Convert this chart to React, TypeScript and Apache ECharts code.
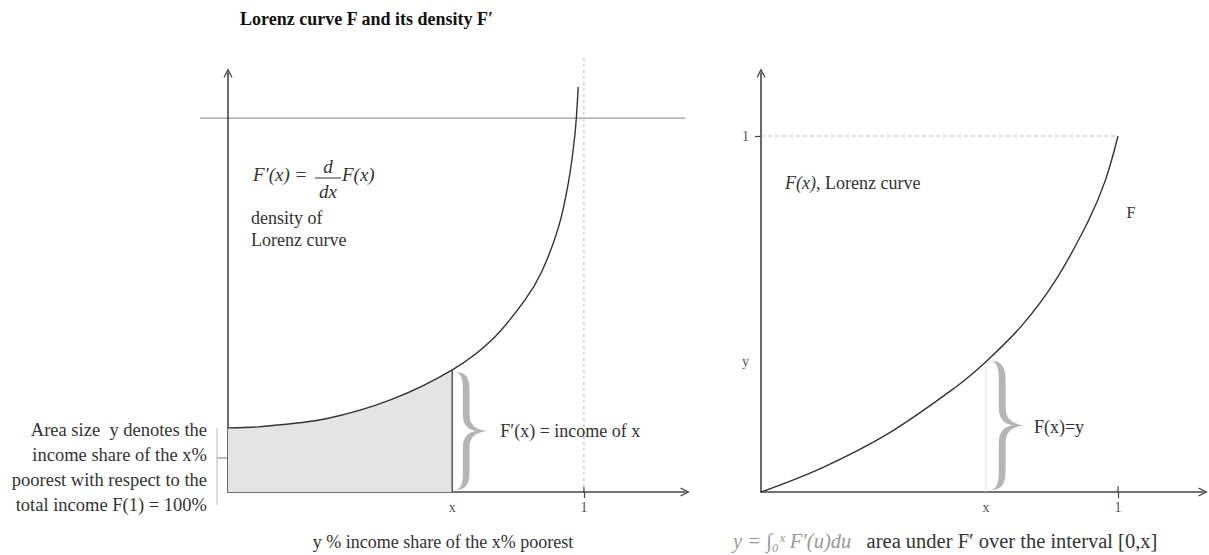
import React, { useEffect, useRef } from "react";
import * as echarts from "echarts";

// ---- data ----
const densityX = [0, 0.085, 0.272, 0.46, 0.63, 0.741, 0.834, 0.881, 0.928, 0.956, 0.975, 0.984];
const densityY = [0.18, 0.183, 0.205, 0.26, 0.343, 0.427, 0.539, 0.618, 0.742, 0.867, 1.007, 1.138];
const lorenzX = [0, 0.171, 0.356, 0.543, 0.63, 0.731, 0.824, 0.916, 0.964, 1.0];
const lorenzY = [0, 0.068, 0.164, 0.293, 0.366, 0.468, 0.593, 0.76, 0.874, 1.0];
const markX = 0.63;
const densityAtMark = 0.343;
const lorenzAtMark = 0.366;
const refLineLeft = 1.05;
const xTickLabels = ["x", "1"];
const yTickLabelsRight = ["y", "1"];

const LX_MAX = 1.284;
const LY_MAX = 1.177;
const RX_MAX = 1.238;
const RY_MAX = 1.177;

const SERIF = "'Liberation Serif', 'DejaVu Serif', serif";

const BRACE_D =
  "M0,0 C9,0 13,5 13,18 L13,44 C13,54 19,59 30,60 C19,61 13,66 13,76 L13,102 C13,115 9,120 0,120 C5,119 7,114 7,102 L7,76 C7,66 12,61 19,60 C12,59 7,54 7,44 L7,18 C7,6 5,1 0,0 Z";
echarts.graphic.registerShape("brace", echarts.graphic.extendPath(BRACE_D, {}));

const ARROW = "path://M0,12 L6,0 L12,12 L10.6,12.9 L6,4 L1.4,12.9 Z";

function T(x: number, y: number, text: string, font: string, fill = "#333", align = "left", valign = "middle", extra: any = {}) {
  return {
    type: "text",
    x,
    y,
    silent: true,
    style: { text, font, fill, textAlign: align, textVerticalAlign: valign, ...extra },
  };
}

export default function App() {
  const ref = useRef<HTMLDivElement>(null);
  useEffect(() => {
    const chart = echarts.init(ref.current!, null, { renderer: "svg" });
    const densityData = densityX.map((x, i) => [x, densityY[i]]);
    const areaData = densityData.filter((d) => d[0] <= markX);
    const lorenzData = lorenzX.map((x, i) => [x, lorenzY[i]]);

    const axisLine = {
      show: true,
      onZero: false,
      lineStyle: { color: "#444", width: 1.6 },
      symbol: ["none", ARROW],
      symbolSize: [9, 10],
    };
    const xLabel = {
      customValues: [markX, 1],
      formatter: (v: number) => (v === 1 ? xTickLabels[1] : xTickLabels[0]),
      fontFamily: SERIF,
      fontSize: 14,
      color: "#555",
      margin: 8,
    };

    chart.setOption({
      animation: false,
      backgroundColor: "#fff",
      grid: [
        { left: 228, top: 73, width: 457, height: 419 },
        { left: 761, top: 73, width: 442, height: 419 },
      ],
      xAxis: [
        {
          gridIndex: 0,
          type: "value",
          min: 0,
          max: LX_MAX,
          axisLine,
          axisTick: { show: true, customValues: [1], length: 6, lineStyle: { color: "#444", width: 1.2 } },
          axisLabel: xLabel,
          splitLine: { show: false },
        },
        {
          gridIndex: 1,
          type: "value",
          min: 0,
          max: RX_MAX,
          axisLine,
          axisTick: { show: true, customValues: [1], length: 6, lineStyle: { color: "#444", width: 1.2 } },
          axisLabel: xLabel,
          splitLine: { show: false },
        },
      ],
      yAxis: [
        {
          gridIndex: 0,
          type: "value",
          min: 0,
          max: LY_MAX,
          axisLine,
          axisTick: { show: false },
          axisLabel: { show: false },
          splitLine: { show: false },
        },
        {
          gridIndex: 1,
          type: "value",
          min: 0,
          max: RY_MAX,
          axisLine,
          axisTick: { show: true, customValues: [1], length: 6, lineStyle: { color: "#444", width: 1.2 } },
          axisLabel: {
            customValues: [lorenzAtMark, 1],
            formatter: (v: number) => (v === 1 ? yTickLabelsRight[1] : yTickLabelsRight[0]),
            fontFamily: SERIF,
            fontSize: 14,
            color: "#555",
            margin: 12,
          },
          splitLine: { show: false },
        },
      ],
      series: [
        {
          type: "line",
          xAxisIndex: 0,
          yAxisIndex: 0,
          data: areaData,
          smooth: 0.3,
          symbol: "none",
          lineStyle: { width: 0 },
          areaStyle: { color: "#e4e4e4", opacity: 1 },
          z: 1,
        },
        {
          type: "line",
          xAxisIndex: 0,
          yAxisIndex: 0,
          data: densityData,
          smooth: 0.3,
          symbol: "none",
          lineStyle: { color: "#333", width: 1.4 },
          z: 3,
        },
        {
          type: "line",
          xAxisIndex: 0,
          yAxisIndex: 0,
          data: [
            [markX, 0],
            [markX, densityAtMark],
          ],
          symbol: "none",
          lineStyle: { color: "#555", width: 1.5 },
          z: 3,
        },
        {
          type: "line",
          xAxisIndex: 1,
          yAxisIndex: 1,
          data: [
            [markX, 0],
            [markX, lorenzAtMark],
          ],
          symbol: "none",
          lineStyle: { color: "#e2e2e2", width: 1 },
          z: 1,
        },
        {
          type: "line",
          xAxisIndex: 1,
          yAxisIndex: 1,
          data: [
            [0, 1],
            [1, 1],
          ],
          symbol: "none",
          lineStyle: { color: "#bbb", width: 1, type: [4, 3] },
          z: 1,
        },
        {
          type: "line",
          xAxisIndex: 1,
          yAxisIndex: 1,
          data: [
            [1, 0],
            [1, 0.016],
          ],
          symbol: "none",
          lineStyle: { color: "#444", width: 1.2 },
          z: 4,
        },
        {
          type: "line",
          xAxisIndex: 1,
          yAxisIndex: 1,
          data: lorenzData,
          smooth: 0.35,
          symbol: "none",
          lineStyle: { color: "#333", width: 1.4 },
          z: 3,
        },
      ],
    });

    const pL = (x: number, y: number) => chart.convertToPixel({ gridIndex: 0 }, [x, y]) as number[];
    const pR = (x: number, y: number) => chart.convertToPixel({ gridIndex: 1 }, [x, y]) as number[];

    const lOrigin = pL(0, 0);
    const lMark = pL(markX, densityAtMark);
    const lOne = pL(1, 0);
    const lRef = pL(0, refLineLeft);
    const lEnd = pL(LX_MAX, 0);
    const rMark = pR(markX, lorenzAtMark);
    const rOrigin = pR(0, 0);

    const lBraceTop = lMark[1] + 2;
    const lBraceH = lOrigin[1] - 2 - lBraceTop;
    const rBraceTop = rMark[1] - 1;
    const rBraceH = rOrigin[1] - 2 - rBraceTop;

    const italic = `italic 19px ${SERIF}`;
    const reg = `18px ${SERIF}`;

    chart.setOption({
      graphic: [
        T(240, 19, "Lorenz curve F and its density F′", `bold 18px ${SERIF}`, "#111"),
        // horizontal reference line and dashed vertical at 1 (left panel)
        {
          type: "line",
          silent: true,
          z: 0,
          shape: { x1: lOrigin[0] - 28, y1: lRef[1], x2: lEnd[0], y2: lRef[1] },
          style: { stroke: "#999", lineWidth: 1.2 },
        },
        {
          type: "line",
          silent: true,
          z: 0,
          shape: { x1: lOne[0], y1: 58, x2: lOne[0], y2: lOne[1] },
          style: { stroke: "#bbb", lineWidth: 1, lineDash: [3, 3] },
        },
        {
          type: "line",
          silent: true,
          shape: { x1: lOne[0], y1: lOne[1], x2: lOne[0], y2: lOne[1] - 5 },
          style: { stroke: "#444", lineWidth: 1.2 },
        },
        // formula
        T(253, 174, "F′(x) =", italic, "#333"),
        T(328, 166, "d", italic, "#333", "center"),
        {
          type: "line",
          silent: true,
          shape: { x1: 315, y1: 178, x2: 341, y2: 178 },
          style: { stroke: "#333", lineWidth: 1 },
        },
        T(328, 191, "dx", italic, "#333", "center"),
        T(342, 174, "F(x)", italic, "#333"),
        T(251, 218, "density of", reg, "#333"),
        T(251, 240, "Lorenz curve", reg, "#333"),
        // left brace and label
        {
          type: "brace",
          silent: true,
          x: lMark[0] + 3,
          y: lBraceTop,
          scaleX: 1.1,
          scaleY: lBraceH / 120,
          style: { fill: "#b5b5b5" },
        },
        T(lMark[0] + 48, lBraceTop + lBraceH / 2, "F′(x) = income of x", reg, "#333"),
        // y annotation
        {
          type: "line",
          silent: true,
          shape: { x1: 217, y1: 458, x2: 345, y2: 458 },
          style: { stroke: "#777", lineWidth: 1 },
        },
        {
          type: "line",
          silent: true,
          shape: { x1: 217, y1: 428, x2: 217, y2: 505 },
          style: { stroke: "#bbb", lineWidth: 1 },
        },
        T(350, 460, "y", reg, "#333", "center"),
        T(
          207,
          467,
          "Area size  y denotes the\nincome share of the x%\npoorest with respect to the\ntotal income F(1) = 100%",
          `18.5px ${SERIF}`,
          "#333",
          "right",
          "middle",
          { lineHeight: 25 }
        ),
        T(443, 542, "y % income share of the x% poorest", reg, "#333", "center"),
        // right panel
        {
          type: "text",
          silent: true,
          x: 785,
          y: 183,
          style: {
            text: "{i|F(x)}{r|, Lorenz curve}",
            textVerticalAlign: "middle",
            rich: {
              i: { font: `italic 18px ${SERIF}`, fill: "#333" },
              r: { font: reg, fill: "#333" },
            },
          },
        },
        T(1131, 212, "F", `16px ${SERIF}`, "#333", "center"),
        {
          type: "brace",
          silent: true,
          x: rMark[0] + 5,
          y: rBraceTop,
          scaleX: 1.13,
          scaleY: rBraceH / 120,
          style: { fill: "#b5b5b5" },
        },
        T(rMark[0] + 48, 427, "F(x)=y", reg, "#333"),
        {
          type: "text",
          silent: true,
          x: 733,
          y: 541,
          style: {
            text: "{f|y = ∫₀ˣ F′(u)du}{r|   area under F′ over the interval [0,x]}",
            textVerticalAlign: "middle",
            rich: {
              f: { font: `italic 20.5px ${SERIF}`, fill: "#999" },
              r: { font: `20.5px ${SERIF}`, fill: "#333" },
            },
          },
        },
      ],
    });

    return () => chart.dispose();
  }, []);
  return (
    <div
      ref={ref}
      style={{ position: "fixed", left: 0, top: 0, width: 1209, height: 555, background: "#fff" }}
    />
  );
}
